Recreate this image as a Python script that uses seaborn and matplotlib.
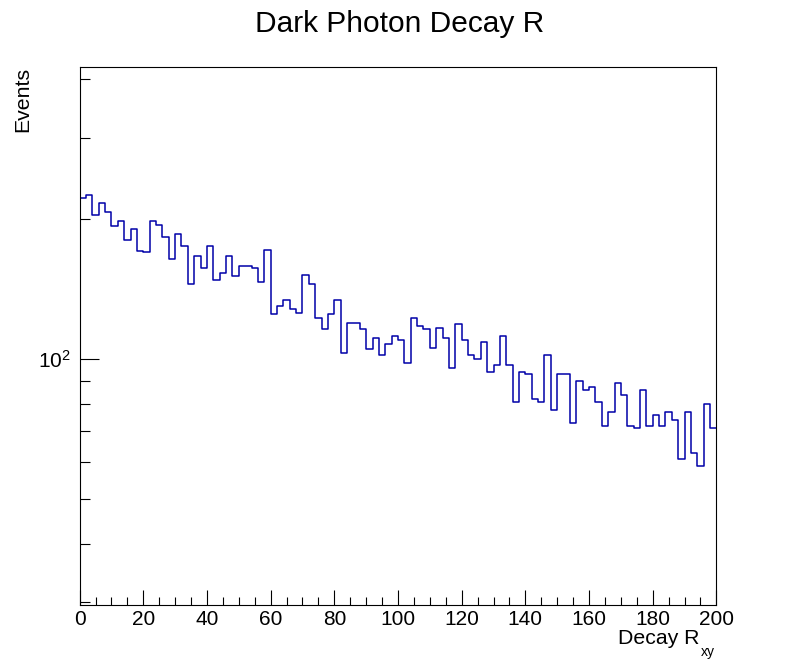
import numpy as np
import matplotlib
matplotlib.use("Agg")
import matplotlib.pyplot as plt
from matplotlib.ticker import MultipleLocator, LogLocator, NullFormatter
import seaborn as sns

# Decay R_xy histogram, 100 bins of width 2 between 0 and 200
r_lo, r_hi, r_width = 0, 200, 2
r_centers = np.arange(r_lo + r_width / 2, r_hi, r_width)
events = [
    222, 226, 204, 217, 207, 194, 198, 181, 191, 171,
    170, 198, 195, 183, 164, 186, 175, 145, 167, 157,
    175, 148, 153, 167, 151, 159, 159, 157, 147, 172,
    125, 130, 134, 128, 126, 152, 145, 123, 116, 125,
    134, 103, 120, 120, 116, 105, 111, 102, 108, 112,
    110, 98, 123, 118, 116, 106, 117, 111, 96, 119,
    110, 102, 100, 109, 94, 97, 112, 97, 81, 94,
    93, 82, 81, 102, 78, 93, 93, 73, 90, 86,
    87, 81, 72, 77, 89, 84, 72, 71, 86, 72,
    76, 72, 77, 74, 61, 77, 63, 59, 80, 71,
]
x_ticks = [0, 20, 40, 60, 80, 100, 120, 140, 160, 180, 200]

sns.set_style("white")
plt.rcParams['font.family'] = ['Liberation Sans', 'DejaVu Sans']
plt.rcParams['mathtext.fontset'] = 'custom'
plt.rcParams['mathtext.rm'] = 'Liberation Sans'
plt.rcParams['text.color'] = 'black'

dpi = 100
fig = plt.figure(figsize=(796 / dpi, 672 / dpi), dpi=dpi)
ax = fig.add_axes([0.1, 0.1, 0.8, 0.8])

sns.histplot(x=r_centers, weights=events, binwidth=r_width, binrange=(r_lo, r_hi),
             element="step", fill=False, color="#0000a8", linewidth=1.1, ax=ax)

ax.set_yscale('log')
ax.set_xlim(r_lo, r_hi)
ax.set_ylim(29.65, 425)

ax.set_xticks(x_ticks)
ax.xaxis.set_minor_locator(MultipleLocator(5))
ax.yaxis.set_major_locator(LogLocator(base=10))
ax.yaxis.set_minor_locator(LogLocator(base=10, subs=np.arange(2, 10)))
ax.yaxis.set_minor_formatter(NullFormatter())

ax.tick_params(axis='both', which='both', direction='in', bottom=True, left=True,
               top=False, right=False, colors='black', labelcolor='black',
               width=0.8, labelsize=15)
ax.tick_params(axis='x', which='major', length=11, pad=4)
ax.tick_params(axis='x', which='minor', length=5.5)
ax.tick_params(axis='y', which='major', length=13.5, pad=6)
ax.tick_params(axis='y', which='minor', length=7.5)

for side in ax.spines.values():
    side.set_visible(True)
    side.set_color('black')
    side.set_linewidth(0.8)

ax.set_xlabel("")
ax.set_ylabel("")

# ROOT-style title and axis titles
fig.text(0.5025, 1 - 31.7 / 672, "Dark Photon Decay R", ha='center', va='baseline', fontsize=21.5)
fig.text(700 / 796, 1 - 644.5 / 672, "Decay R", ha='right', va='baseline', fontsize=15.3)
fig.text(715 / 796, 1 - 656 / 672, "xy", ha='right', va='baseline', fontsize=10)
fig.text(28 / 796, 0.9, "Events", rotation=90, rotation_mode='anchor',
         ha='right', va='baseline', fontsize=15.3)

fig.savefig("out.png", dpi=dpi)
